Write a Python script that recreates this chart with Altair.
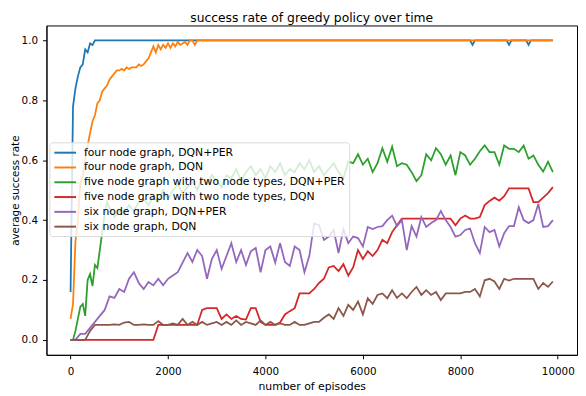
import altair as alt
import pandas as pd

series_names = [
    "four node graph, DQN+PER",
    "four node graph, DQN",
    "five node graph with two node types, DQN+PER",
    "five node graph with two node types, DQN",
    "six node graph, DQN+PER",
    "six node graph, DQN",
]
series_colors = ["#1f77b4", "#ff7f0e", "#2ca02c", "#d62728", "#9467bd", "#8c564b"]

x_ticks = [0, 2000, 4000, 6000, 8000, 10000]
y_ticks = [0.0, 0.2, 0.4, 0.6, 0.8, 1.0]

# four node graph, DQN+PER
blue_ep = [0, 50, 100, 150, 200, 250, 300, 350, 400, 450, 500,
           8200, 8250, 8300, 8950, 9000, 9050, 9350, 9400, 9450, 9900]
blue_val = [0.16, 0.78, 0.84, 0.88, 0.91, 0.92, 0.97, 0.96, 0.99, 0.985, 1.0,
            1.0, 0.985, 1.0, 1.0, 0.985, 1.0, 1.0, 0.985, 1.0, 1.0]

# four node graph, DQN
orange_ep = [0, 50, 100, 150, 200, 250, 300, 350, 400, 450, 500, 550, 600, 650, 700,
             750, 800, 850, 900, 950, 1000, 1050, 1100, 1150, 1200, 1250, 1300, 1350,
             1400, 1450, 1500, 1550, 1600, 1650, 1700, 1750, 1800, 1850, 1900, 1950,
             2000, 2050, 2100, 2150, 2200, 2250, 2300, 2350, 2400, 2450, 2500, 2550,
             2600, 9900]
orange_val = [0.07, 0.12, 0.33, 0.40, 0.52, 0.55, 0.60, 0.65, 0.69, 0.73, 0.75, 0.79,
              0.80, 0.83, 0.84, 0.85, 0.87, 0.88, 0.89, 0.90, 0.90, 0.905, 0.90, 0.91,
              0.905, 0.91, 0.91, 0.91, 0.92, 0.915, 0.92, 0.93, 0.94, 0.96, 0.98, 0.96,
              0.985, 0.97, 0.985, 0.975, 0.99, 0.975, 0.99, 0.98, 0.995, 0.985, 0.99,
              0.995, 0.985, 1.0, 1.0, 0.985, 1.0, 1.0]

# five node graph with two node types, DQN+PER
green_ep = [0, 50, 100, 150, 200, 250, 300, 350, 400, 450, 500, 550, 600, 650, 700,
            750, 800, 900, 1000, 1100, 1200, 1300, 1400, 1500, 1600, 1700, 1800, 1900,
            2000, 2100, 2200, 2300, 2400, 2500, 2600, 2700, 2800, 2900, 3000, 3100,
            3200, 3300, 3400, 3500, 3600, 3700, 3800, 3900, 4000, 4100, 4200, 4300,
            4400, 4500, 4600, 4700, 4800, 4900, 5000, 5100, 5200, 5300, 5400, 5500,
            5600, 5700, 5800, 5900, 6000, 6100, 6200, 6300, 6400, 6500, 6600, 6700,
            6800, 6900, 7000, 7100, 7200, 7300, 7400, 7500, 7600, 7700, 7800, 7900,
            8000, 8100, 8200, 8300, 8400, 8500, 8600, 8700, 8800, 8900, 9000, 9100,
            9200, 9300, 9400, 9500, 9600, 9700, 9800, 9900]
green_val = [0.0, 0.0, 0.03, 0.07, 0.11, 0.12, 0.08, 0.20, 0.22, 0.18, 0.25, 0.24,
             0.30, 0.36, 0.42, 0.46, 0.44, 0.41, 0.43, 0.42, 0.45, 0.43, 0.46, 0.47,
             0.45, 0.48, 0.46, 0.50, 0.47, 0.50, 0.52, 0.49, 0.51, 0.53, 0.50, 0.54,
             0.52, 0.55, 0.53, 0.51, 0.55, 0.54, 0.57, 0.53, 0.56, 0.58, 0.55, 0.57,
             0.54, 0.58, 0.56, 0.59, 0.55, 0.57, 0.56, 0.59, 0.57, 0.60, 0.56, 0.58,
             0.55, 0.57, 0.59, 0.56, 0.54, 0.595, 0.59, 0.62, 0.585, 0.605, 0.56, 0.59,
             0.64, 0.595, 0.645, 0.58, 0.59, 0.585, 0.56, 0.53, 0.55, 0.62, 0.60, 0.64,
             0.62, 0.585, 0.616, 0.55, 0.627, 0.616, 0.585, 0.605, 0.63, 0.649, 0.627,
             0.627, 0.585, 0.649, 0.638, 0.638, 0.627, 0.649, 0.605, 0.616, 0.585,
             0.562, 0.595, 0.56]

step_ep = [0, 100, 200, 300, 400, 500, 600, 700, 800, 900, 1000, 1100, 1200, 1300,
           1400, 1500, 1600, 1700, 1800, 1900, 2000, 2100, 2200, 2300, 2400, 2500,
           2600, 2700, 2800, 2900, 3000, 3100, 3200, 3300, 3400, 3500, 3600, 3700,
           3800, 3900, 4000, 4100, 4200, 4300, 4400, 4500, 4600, 4700, 4800, 4900,
           5000, 5100, 5200, 5300, 5400, 5500, 5600, 5700, 5800, 5900, 6000, 6100,
           6200, 6300, 6400, 6500, 6600, 6700, 6800, 6900, 7000, 7100, 7200, 7300,
           7400, 7500, 7600, 7700, 7800, 7900, 8000, 8100, 8200, 8300, 8400, 8500,
           8600, 8700, 8800, 8900, 9000, 9100, 9200, 9300, 9400, 9500, 9600, 9700,
           9800, 9900]

# five node graph with two node types, DQN
red_val = [0.0, 0.0, 0.0, 0.0, 0.0, 0.0, 0.0, 0.0, 0.0, 0.0, 0.0, 0.0, 0.0, 0.0,
           0.0, 0.0, 0.0, 0.0, 0.05, 0.05, 0.05, 0.05, 0.05, 0.05, 0.05, 0.05, 0.05,
           0.10, 0.106, 0.106, 0.106, 0.07, 0.085, 0.07, 0.08, 0.07, 0.068, 0.106,
           0.106, 0.06, 0.05, 0.05, 0.05, 0.058, 0.085, 0.096, 0.106, 0.155, 0.155,
           0.155, 0.17, 0.19, 0.204, 0.242, 0.247, 0.23, 0.253, 0.215, 0.242, 0.30,
           0.27, 0.296, 0.28, 0.30, 0.334, 0.323, 0.36, 0.383, 0.405, 0.405, 0.405,
           0.405, 0.405, 0.405, 0.405, 0.405, 0.405, 0.405, 0.405, 0.383, 0.405,
           0.415, 0.405, 0.405, 0.41, 0.45, 0.464, 0.475, 0.465, 0.48, 0.506, 0.506,
           0.506, 0.506, 0.506, 0.46, 0.46, 0.475, 0.49, 0.51]

# six node graph, DQN+PER
purple_val = [0.0, 0.0, 0.02, 0.02, 0.04, 0.06, 0.08, 0.10, 0.145, 0.14, 0.17, 0.16,
              0.204, 0.226, 0.19, 0.17, 0.193, 0.182, 0.204, 0.182, 0.204, 0.215,
              0.226, 0.258, 0.29, 0.26, 0.30, 0.28, 0.204, 0.27, 0.30, 0.237, 0.28,
              0.323, 0.26, 0.30, 0.25, 0.296, 0.307, 0.226, 0.30, 0.312, 0.258, 0.323,
              0.26, 0.247, 0.312, 0.30, 0.226, 0.28, 0.389, 0.383, 0.334, 0.345, 0.367,
              0.29, 0.37, 0.323, 0.345, 0.34, 0.312, 0.377, 0.37, 0.377, 0.38, 0.40,
              0.415, 0.38, 0.40, 0.30, 0.38, 0.345, 0.41, 0.377, 0.39, 0.40, 0.43, 0.40,
              0.377, 0.345, 0.35, 0.367, 0.372, 0.323, 0.29, 0.377, 0.36, 0.367, 0.312,
              0.356, 0.38, 0.38, 0.443, 0.40, 0.39, 0.40, 0.454, 0.377, 0.38, 0.40]

# six node graph, DQN
brown_val = [0.0, 0.0, 0.0, 0.0, 0.03, 0.05, 0.05, 0.05, 0.05, 0.052, 0.05, 0.058,
             0.06, 0.05, 0.05, 0.052, 0.05, 0.05, 0.063, 0.05, 0.05, 0.055, 0.05, 0.07,
             0.05, 0.06, 0.05, 0.06, 0.05, 0.055, 0.06, 0.05, 0.06, 0.05, 0.065, 0.05,
             0.06, 0.055, 0.05, 0.065, 0.05, 0.06, 0.05, 0.055, 0.05, 0.05, 0.06, 0.05,
             0.05, 0.055, 0.06, 0.06, 0.074, 0.085, 0.07, 0.106, 0.08, 0.117, 0.10,
             0.128, 0.085, 0.139, 0.12, 0.15, 0.155, 0.139, 0.166, 0.14, 0.155, 0.139,
             0.16, 0.177, 0.15, 0.166, 0.15, 0.16, 0.133, 0.155, 0.155, 0.155, 0.155,
             0.16, 0.16, 0.17, 0.145, 0.199, 0.204, 0.195, 0.17, 0.204, 0.198, 0.204,
             0.204, 0.204, 0.204, 0.204, 0.17, 0.19, 0.177, 0.195]

all_eps = [blue_ep, orange_ep, green_ep, step_ep, step_ep, step_ep]
all_vals = [blue_val, orange_val, green_val, red_val, purple_val, brown_val]

rows = []
for name, eps, vals in zip(series_names, all_eps, all_vals):
    for e, v in zip(eps, vals):
        rows.append({"episode": e, "rate": v, "series": name})
df = pd.DataFrame(rows)

FONT = "DejaVu Sans"
PLOT_H = 334

color = alt.Color(
    "series:N",
    scale=alt.Scale(domain=series_names, range=series_colors),
    sort=series_names,
    legend=alt.Legend(
        title=None,
        orient="none",
        legendX=3,
        legendY=118.5,
        symbolType="M-1,0H3",
        symbolSize=121,
        symbolStrokeWidth=2,
        labelOffset=18,
        labelFontSize=11,
        labelFont=FONT,
        labelColor="#000000",
        labelLimit=400,
        rowPadding=3,
        padding=4,
        fillColor="rgba(255,255,255,0.8)",
        strokeColor="#d9d9d9",
        cornerRadius=3,
    ),
)

base = alt.Chart(df).mark_line(strokeWidth=1.8).encode(
    x=alt.X(
        "episode:Q",
        scale=alt.Scale(domain=[-495, 10395], nice=False, zero=False),
        axis=alt.Axis(values=x_ticks, format="d", title="number of episodes",
                      labelPadding=8, titlePadding=4, titleFontSize=11),
    ),
    y=alt.Y(
        "rate:Q",
        scale=alt.Scale(domain=[-0.05, 1.05], nice=False, zero=False),
        axis=alt.Axis(values=y_ticks, format=".1f", title="average success rate",
                      labelPadding=5, titleFontSize=10.5,
                      titleX=-26, titleY=PLOT_H / 2),
    ),
    color=color,
)

layers = [base.transform_filter(alt.datum.series == n) for n in series_names]

chart = alt.layer(*layers).properties(
    width=538,
    height=PLOT_H,
    title=alt.TitleParams(
        "success rate of greedy policy over time",
        fontSize=12.5,
        font=FONT,
        fontWeight="normal",
        color="#000000",
        offset=1,
    ),
    padding={"left": 39, "top": 15, "right": 1, "bottom": 38},
    autosize=alt.AutoSizeParams(type="none"),
).configure_view(
    stroke="#000000", strokeWidth=1
).configure_axis(
    grid=False,
    domainColor="#000000",
    tickColor="#000000",
    tickSize=4,
    labelFont=FONT,
    labelFontSize=10.5,
    labelColor="#000000",
    titleFont=FONT,
    titleFontWeight="normal",
    titleColor="#000000",
)

chart.save("out.html", embed_options={"renderer": "svg", "actions": False})
